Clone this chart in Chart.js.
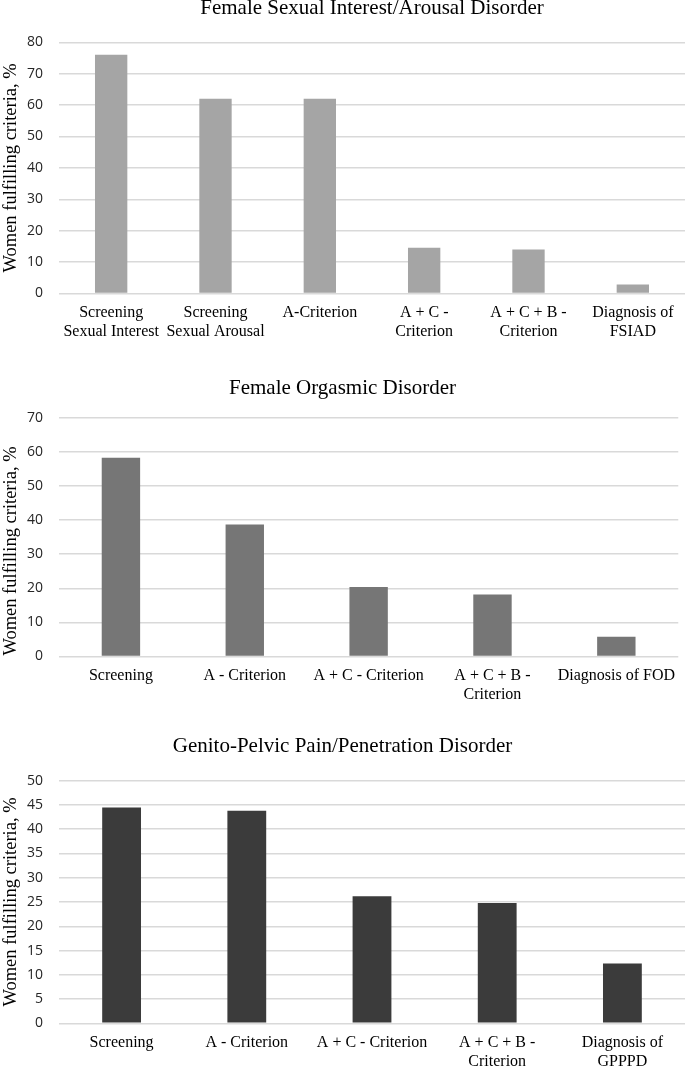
<!DOCTYPE html>
<html>
<head>
<meta charset="utf-8">
<script src="https://cdn.jsdelivr.net/npm/chart.js@4.4.0/dist/chart.umd.min.js"></script>
<style>
  html, body { margin: 0; padding: 0; background: #fff; }
  body { width: 685px; height: 1067px; position: relative; overflow: hidden; }
  canvas { position: absolute; left: 0; }
</style>
</head>
<body>
<canvas id="fsiadChart" width="685" height="350" style="top:0px"></canvas>
<canvas id="fodChart" width="685" height="360" style="top:350px"></canvas>
<canvas id="gpppdChart" width="685" height="357" style="top:710px"></canvas>
<script>
// values (% of women fulfilling criteria)
const fsiadLabels = [['Screening', 'Sexual Interest'], ['Screening', 'Sexual Arousal'], 'A-Criterion',
                     ['A + C -', 'Criterion'], ['A + C + B -', 'Criterion'], ['Diagnosis of', 'FSIAD']];
const fsiadValues = [76, 62, 62, 14.6, 14, 2.9];

const fodLabels = ['Screening', 'A - Criterion', 'A + C - Criterion', ['A + C + B -', 'Criterion'], 'Diagnosis of FOD'];
const fodValues = [58.3, 38.7, 20.4, 18.2, 5.8];

const gpppdLabels = ['Screening', 'A - Criterion', 'A + C - Criterion', ['A + C + B -', 'Criterion'], ['Diagnosis of', 'GPPPD']];
const gpppdValues = [44.5, 43.8, 26.2, 24.8, 12.3];

const yTitle = 'Women fulfilling criteria, %';
const serif = "'Liberation Serif', 'Times New Roman', serif";

function makeChart(id, title, labels, values, color, yMax, yStep, opt) {
    const ctx = document.getElementById(id).getContext('2d');
    return new Chart(ctx, {
        type: 'bar',
        data: {
            labels: labels,
            datasets: [{
                data: values,
                backgroundColor: color,
                borderWidth: 0,
                categoryPercentage: 1,
                barPercentage: 0.31
            }]
        },
        options: {
            responsive: false,
            animation: false,
            layout: { padding: { left: 0, right: 0, top: 0, bottom: 0 } },
            plugins: {
                legend: { display: false },
                tooltip: { enabled: false },
                title: {
                    display: true,
                    text: title,
                    fullSize: opt.fullTitle,
                    color: '#000',
                    font: { family: serif, size: 21, weight: 'normal', lineHeight: 0.8 },
                    padding: { top: opt.titleTop, bottom: opt.titleBottom }
                }
            },
            scales: {
                x: {
                    grid: { display: false, drawTicks: false },
                    border: { display: false },
                    ticks: {
                        color: '#000',
                        padding: 10,
                        maxRotation: 0,
                        autoSkip: false,
                        font: { family: serif, size: 16, lineHeight: 1.18 }
                    },
                    afterFit: function(axis) { axis.height = opt.xHeight; }
                },
                y: {
                    min: 0,
                    max: yMax,
                    grid: { color: '#d9d9d9', lineWidth: 1.5, drawTicks: false },
                    border: { display: false },
                    ticks: {
                        stepSize: yStep,
                        color: '#262626',
                        padding: 16,
                        font: { family: "'Open Sans', sans-serif", size: 14 }
                    },
                    title: {
                        display: true,
                        // trailing no-break spaces nudge the centred title along the axis
                        text: yTitle + '\u00A0'.repeat(opt.titleShift),
                        color: '#000',
                        padding: 0,
                        font: { family: serif, size: 18.5, lineHeight: 1.2 }
                    },
                    afterFit: function(axis) { axis.width = 59; }
                }
            }
        }
    });
}

makeChart('fsiadChart', 'Female Sexual Interest/Arousal Disorder', fsiadLabels, fsiadValues, '#a5a5a5', 80, 10,
          { fullTitle: false, titleTop: 0, titleBottom: 25.5, xHeight: 56.5, titleShift: 0 });
makeChart('fodChart', 'Female Orgasmic Disorder', fodLabels, fodValues, '#767676', 70, 10,
          { fullTitle: true, titleTop: 30, titleBottom: 21, xHeight: 53.5, titleShift: 6 });
makeChart('gpppdChart', 'Genito-Pelvic Pain/Penetration Disorder', gpppdLabels, gpppdValues, '#3b3b3b', 50, 5,
          { fullTitle: true, titleTop: 28.4, titleBottom: 25.5, xHeight: 43.7, titleShift: 0 });
</script>
</body>
</html>
